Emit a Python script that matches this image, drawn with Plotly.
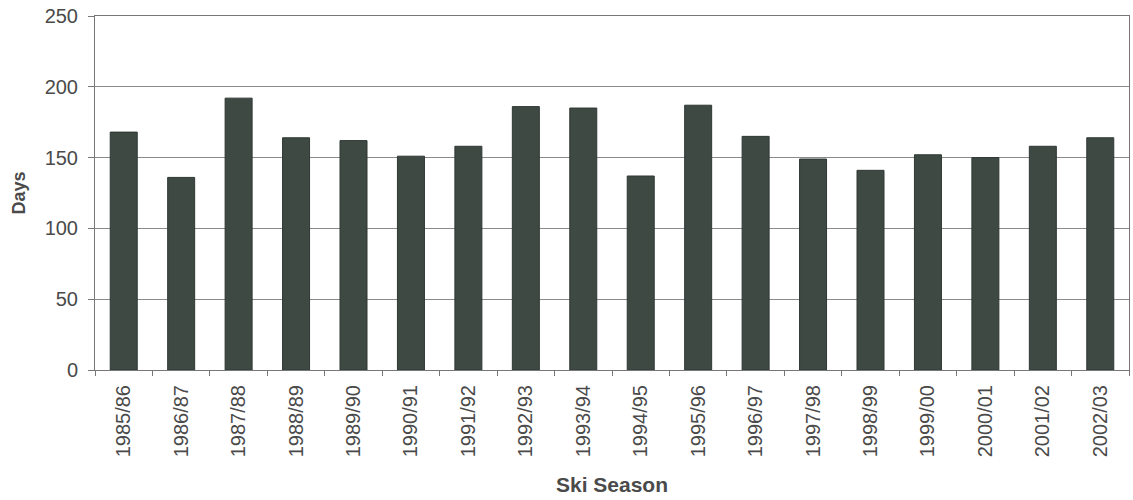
import plotly.graph_objects as go

seasons = ["1985/86", "1986/87", "1987/88", "1988/89", "1989/90", "1990/91",
           "1991/92", "1992/93", "1993/94", "1994/95", "1995/96", "1996/97",
           "1997/98", "1998/99", "1999/00", "2000/01", "2001/02", "2002/03"]
days = [168, 136, 192, 164, 162, 151, 158, 186, 185, 137, 187, 165,
        149, 141, 152, 150, 158, 164]
y_ticks = [0, 50, 100, 150, 200, 250]

text_color = "#4a4a4a"
font_family = "Liberation Sans, Arial, sans-serif"

fig = go.Figure(
    go.Bar(
        x=seasons,
        y=days,
        marker=dict(color="#3e4944", line=dict(color="#2f3834", width=1)),
    )
)

fig.update_layout(
    width=1133,
    height=500,
    margin=dict(l=95, r=4, t=16, b=130),
    paper_bgcolor="white",
    plot_bgcolor="white",
    bargap=0.53,
    showlegend=False,
    font=dict(family=font_family, color=text_color, size=20),
)

fig.update_xaxes(
    type="category",
    tickangle=-90,
    ticks="outside",
    tickson="boundaries",
    ticklen=5,
    tickcolor="#777777",
    showline=True,
    linecolor="#777777",
    linewidth=1,
    mirror=True,
    showgrid=False,
    tickfont=dict(size=20, color=text_color),
    ticklabelstandoff=6,
    title=dict(text="<b>Ski Season</b>", font=dict(size=21, color=text_color), standoff=21),
)

fig.update_yaxes(
    range=[0, 250],
    tickvals=y_ticks,
    ticks="outside",
    ticklen=6,
    tickcolor="#777777",
    showline=True,
    linecolor="#777777",
    linewidth=1,
    mirror=True,
    showgrid=True,
    gridcolor="#8a8a8a",
    gridwidth=1,
    zeroline=False,
    tickfont=dict(size=20, color=text_color),
    ticklabelstandoff=6,
    title=dict(text="<b>Days</b>", font=dict(size=18, color=text_color), standoff=14),
)

fig.write_html("out.html")
